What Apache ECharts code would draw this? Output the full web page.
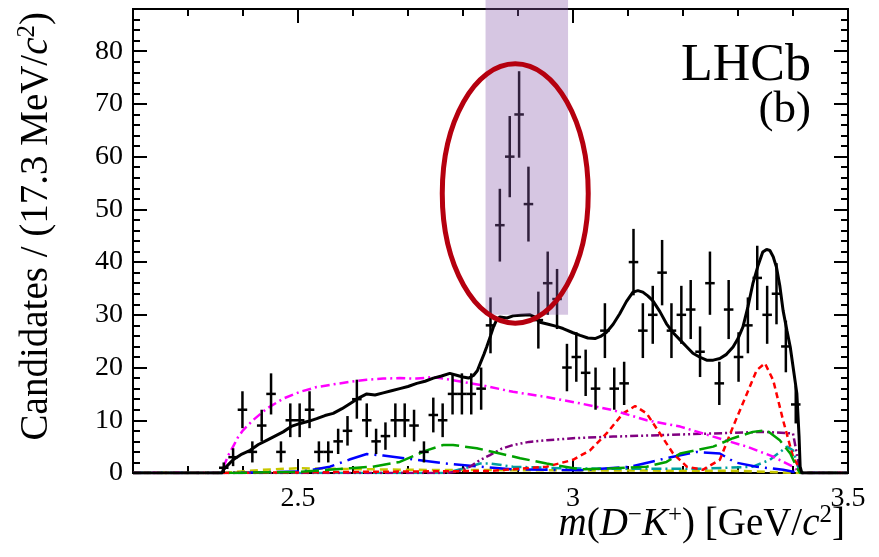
<!DOCTYPE html>
<html>
<head>
<meta charset="utf-8">
<script src="https://cdn.jsdelivr.net/npm/echarts@6/dist/echarts.min.js"></script>
<style>
  html, body { margin: 0; padding: 0; background: #fff; }
  #chart { width: 879px; height: 557px; }
</style>
</head>
<body>
<div id="chart"></div>
<script>
// m(D-K+) bin centres [GeV/c^2], 17.3 MeV wide bins
const massBins = [
  2.365, 2.382, 2.399, 2.417, 2.434, 2.451, 2.469, 2.486, 2.503, 2.521,
  2.538, 2.555, 2.573, 2.590, 2.607, 2.625, 2.642, 2.659, 2.677, 2.694,
  2.711, 2.729, 2.746, 2.763, 2.781, 2.798, 2.815, 2.833, 2.850, 2.867,
  2.885, 2.902, 2.919, 2.937, 2.954, 2.971, 2.989, 3.006, 3.023, 3.041,
  3.058, 3.075, 3.093, 3.110, 3.127, 3.145, 3.162, 3.179, 3.197, 3.214,
  3.231, 3.249, 3.266, 3.283, 3.301, 3.318, 3.335, 3.353, 3.370, 3.387,
  3.405
];
const candidates = [
  1, 3, 12, 4, 9, 15, 4, 10, 10, 12,
  4, 4, 6, 8, 14, 10, 6, 7, 10, 10,
  9, 4, 11, 10, 15, 15, 15, 16, 28, 47,
  60, 68, 51, 29, 36, 33, 20, 22, 19, 16,
  27, 16, 17, 40, 27, 30, 38, 27, 30, 31,
  23, 36, 17, 31, 22, 28, 37, 30, 34, 24,
  13
];
const candErrors = [
  1.0, 1.7, 3.5, 2.0, 3.0, 3.9, 2.0, 3.2, 3.2, 3.5,
  2.0, 2.0, 2.4, 2.8, 3.7, 3.2, 2.4, 2.6, 3.2, 3.2,
  3.0, 2.0, 3.3, 3.2, 3.9, 3.9, 3.9, 4.0, 5.3, 6.9,
  7.7, 8.2, 7.1, 5.4, 6.0, 5.7, 4.5, 4.7, 4.4, 4.0,
  5.2, 4.0, 4.1, 6.3, 5.2, 5.5, 6.2, 5.2, 5.5, 5.6,
  4.8, 6.0, 4.1, 5.6, 4.7, 5.3, 6.1, 5.5, 5.8, 4.9,
  3.6
];
const binWidth = 0.01733;

// Axis ticks
const xMajorTicks = [2.5, 3, 3.5];
const xMinorTicks = [2.3, 2.4, 2.6, 2.7, 2.8, 2.9, 3.1, 3.2, 3.3, 3.4];
const yMajorTicks = [0, 10, 20, 30, 40, 50, 60, 70, 80];
const yMinorTicks = [2, 4, 6, 8, 12, 14, 16, 18, 22, 24, 26, 28, 32, 34, 36, 38,
  42, 44, 46, 48, 52, 54, 56, 58, 62, 64, 66, 68, 72, 74, 76, 78, 82, 84, 86];

// Fit curves: [mass, candidates]
const totalFit = [
  [2.2, 0], [2.362, 0], [2.364, 0.6], [2.382, 2.5], [2.398, 3.6], [2.413, 4.3], [2.428, 5.4],
  [2.443, 6.2], [2.458, 7.0], [2.473, 7.8], [2.489, 8.9], [2.504, 9.4], [2.519, 9.8],
  [2.534, 10.3], [2.549, 10.9], [2.564, 11.3], [2.580, 12.2], [2.595, 13.2], [2.610, 14.2],
  [2.625, 15.0], [2.640, 14.8], [2.655, 15.2], [2.670, 15.6], [2.685, 16.0], [2.700, 16.4],
  [2.716, 17.0], [2.731, 17.4], [2.746, 18.0], [2.761, 18.4], [2.776, 18.9], [2.790, 18.5],
  [2.800, 18.2], [2.810, 18.0], [2.819, 18.5], [2.826, 19.4], [2.831, 20.7], [2.838, 22.5],
  [2.843, 23.9], [2.850, 26.0], [2.855, 27.6], [2.861, 29.0], [2.867, 29.6], [2.880, 29.4],
  [2.891, 29.8], [2.905, 29.9], [2.922, 30.0], [2.930, 29.6], [2.940, 28.6], [2.955, 28.2],
  [2.970, 27.8], [2.982, 27.4], [3.000, 26.6], [3.013, 26.1], [3.027, 25.6], [3.040, 25.5],
  [3.050, 25.9], [3.061, 26.7], [3.073, 28.2], [3.085, 30.2], [3.097, 32.5], [3.109, 34.3],
  [3.118, 34.6], [3.127, 34.3], [3.136, 33.6], [3.145, 32.7], [3.158, 30.6], [3.170, 28.3],
  [3.183, 26.5], [3.195, 25.2], [3.207, 23.9], [3.218, 22.7], [3.230, 22.0], [3.243, 21.4],
  [3.255, 21.4], [3.267, 21.7], [3.279, 22.5], [3.291, 23.9], [3.300, 25.5], [3.309, 27.7],
  [3.318, 31.5], [3.327, 35.9], [3.336, 39.2], [3.345, 41.9], [3.352, 42.4], [3.358, 42.2],
  [3.364, 41.0], [3.370, 39.0], [3.376, 35.5], [3.382, 30.8], [3.389, 27.0], [3.395, 23.9],
  [3.401, 19.5], [3.407, 15.1], [3.411, 7.0], [3.413, 1.2], [3.416, 0], [3.5, 0]
];
const combBkg = [
  [2.2, 0], [2.362, 0], [2.367, 1.8], [2.374, 3.5], [2.382, 5.0], [2.391, 6.8], [2.400, 8.1],
  [2.418, 10.0], [2.443, 12.2], [2.473, 14.1], [2.504, 15.4], [2.534, 16.3], [2.564, 16.8],
  [2.595, 17.3], [2.625, 17.7], [2.655, 17.9], [2.685, 18.0], [2.716, 17.9], [2.745, 18.2],
  [2.782, 17.6], [2.836, 16.6], [2.891, 15.4], [2.952, 14.4], [3.013, 13.2], [3.073, 11.9],
  [3.134, 10.0], [3.195, 8.8], [3.255, 6.9], [3.316, 5.0], [3.364, 3.1], [3.400, 1.2],
  [3.413, 0], [3.5, 0]
];
const redPeaks = [
  [2.2, 0], [2.36, 0], [2.6, 0.2], [2.85, 0.4], [2.952, 1.2], [3.000, 2.5], [3.031, 4.3],
  [3.061, 7.5], [3.091, 11.3], [3.113, 12.7], [3.134, 11.3], [3.158, 7.5], [3.182, 3.7],
  [3.207, 1.2], [3.236, 0.6], [3.267, 2.5], [3.291, 8.8], [3.316, 15.0], [3.334, 19.5],
  [3.349, 20.8], [3.364, 17.6], [3.382, 10.0], [3.400, 3.1], [3.413, 0.6], [3.416, 0], [3.5, 0]
];
const purpleComp = [
  [2.2, 0], [2.77, 0], [2.790, 0.3], [2.813, 1.2], [2.830, 2.4], [2.849, 3.4], [2.870, 4.6],
  [2.891, 5.3], [2.920, 5.9], [2.952, 6.2], [3.000, 6.6], [3.073, 6.9], [3.164, 7.2],
  [3.255, 7.5], [3.345, 7.8], [3.400, 7.5], [3.409, 2.5], [3.413, 0], [3.5, 0]
];
const greenComp = [
  [2.2, 0], [2.36, 0], [2.5, 0.2], [2.595, 0.9], [2.636, 1.2], [2.685, 2.1], [2.734, 4.3],
  [2.764, 5.3], [2.782, 5.3], [2.825, 4.7], [2.867, 3.7], [2.904, 2.8], [2.952, 1.8],
  [3.013, 0.7], [3.073, 0.9], [3.134, 1.2], [3.170, 2.1], [3.195, 3.7], [3.255, 5.0],
  [3.291, 6.6], [3.327, 7.8], [3.352, 8.1], [3.376, 6.2], [3.395, 3.7], [3.409, 0.6],
  [3.413, 0], [3.5, 0]
];
const blueComp = [
  [2.2, 0], [2.37, 0], [2.509, 0.3], [2.558, 1.2], [2.595, 2.6], [2.625, 3.6], [2.655, 3.3],
  [2.716, 2.5], [2.767, 1.8], [2.831, 1.2], [2.891, 0.7], [3.013, 0.5], [3.104, 1.2],
  [3.170, 2.8], [3.225, 4.0], [3.267, 3.7], [3.295, 2.0], [3.334, 1.2], [3.382, 0.6],
  [3.413, 0], [3.5, 0]
];
const tealComp = [
  [2.2, 0], [2.77, 0], [2.813, 1.2], [2.831, 1.8], [2.849, 1.8], [2.891, 1.2], [2.982, 0.9],
  [3.073, 0.8], [3.231, 0.8], [3.327, 1.2], [3.358, 2.5], [3.389, 5.0], [3.400, 4.3],
  [3.409, 1.2], [3.413, 0], [3.5, 0]
];
const yellowComp = [
  [2.2, 0], [2.36, 0], [2.436, 0.6], [2.498, 0.9], [2.7, 0.6], [3.0, 0.5], [3.3, 0.4],
  [3.41, 0], [3.5, 0]
];

// Highlighted region and the ring around the peak: [xFrom, xTo, yFrom, yTo], [cx, cy, halfX, halfY]
const bandRange = [2.841, 2.991, 30, 89.7];
const peakRing = [2.895, 53, 0.1327, 24.6];

const serif = '"Liberation Serif"';

const tickRich = { t: { fontFamily: serif, fontSize: 28, color: '#000' } };

function xAxisDef(position, ticks, len, labels) {
  return {
    type: 'value', min: 2.2, max: 3.5, position: position,
    axisLine: { show: true, onZero: false, lineStyle: { color: '#000', width: 2 } },
    axisTick: { show: true, inside: true, length: len, customValues: ticks,
      lineStyle: { color: '#000', width: 2 } },
    axisLabel: labels ? {
      show: true, customValues: xMajorTicks, margin: 12, color: '#000',
      fontFamily: serif, fontSize: 28, rich: tickRich,
      formatter: v => '{t|' + v + '}'
    } : { show: false },
    splitLine: { show: false }
  };
}
function yAxisDef(position, ticks, len, labels) {
  return {
    type: 'value', min: 0, max: 88, position: position,
    axisLine: { show: true, onZero: false, lineStyle: { color: '#000', width: 2 } },
    axisTick: { show: true, inside: true, length: len, customValues: ticks,
      lineStyle: { color: '#000', width: 2 } },
    axisLabel: labels ? {
      show: true, customValues: yMajorTicks, margin: 10, color: '#000',
      fontFamily: serif, fontSize: 28, rich: tickRich,
      formatter: v => '{t|' + v + '}'
    } : { show: false },
    splitLine: { show: false }
  };
}

function curve(name, data, color, width, dash, z) {
  return {
    name: name, type: 'line', data: data, showSymbol: false, silent: true,
    xAxisIndex: 0, yAxisIndex: 0, z: z, clip: true,
    lineStyle: { color: color, width: width, type: dash }
  };
}

const chart = echarts.init(document.getElementById('chart'), null, { renderer: 'canvas' });

const richStyles = {
  n: { fontFamily: serif, fontSize: 39, lineHeight: 44 },
  i: { fontFamily: serif, fontStyle: 'italic', fontSize: 39, lineHeight: 44 },
  s: { fontFamily: serif, fontSize: 25, lineHeight: 25, verticalAlign: 'top' },
  big: { fontFamily: serif, fontSize: 52, lineHeight: 52 },
  mid: { fontFamily: serif, fontSize: 45, lineHeight: 45 }
};

const option = {
  animation: false,
  backgroundColor: '#fff',
  grid: { left: 133, right: 31, top: 9, bottom: 84, containLabel: false },
  xAxis: [
    xAxisDef('bottom', xMinorTicks, 7, true),
    xAxisDef('bottom', xMajorTicks, 14, false),
    xAxisDef('top', xMinorTicks, 7, false),
    xAxisDef('top', xMajorTicks, 14, false)
  ],
  yAxis: [
    yAxisDef('left', yMinorTicks, 7, true),
    yAxisDef('left', yMajorTicks, 14, false),
    yAxisDef('right', yMinorTicks, 7, false),
    yAxisDef('right', yMajorTicks, 14, false)
  ],
  graphic: [
    {
      type: 'text', x: 37, y: 12, rotation: Math.PI / 2, silent: true,
      style: {
        text: '{n|Candidates / (17.3 MeV/}{i|c}{s|2}{n|)}',
        align: 'right', verticalAlign: 'middle',
        fontFamily: serif, fontSize: 39, fill: '#000', lineHeight: 44,
        rich: richStyles
      }
    },
    {
      type: 'text', x: 845, y: 525, silent: true,
      style: {
        text: '{i|m}{n|(}{i|D}{s|−}{i|K}{s|+}{n|) [GeV/}{i|c}{s|2}{n|]}',
        align: 'right', verticalAlign: 'middle',
        fontFamily: serif, fontSize: 39, fill: '#000', lineHeight: 44,
        rich: richStyles
      }
    },
    {
      type: 'text', x: 811, y: 66, silent: true, z: 100,
      style: { text: '{big|LHCb}', align: 'right', verticalAlign: 'middle',
        fontFamily: serif, fontSize: 52, fill: '#000', rich: richStyles }
    },
    {
      type: 'text', x: 811, y: 110, silent: true, z: 100,
      style: { text: '{mid|(b)}', align: 'right', verticalAlign: 'middle',
        fontFamily: serif, fontSize: 45, fill: '#000', rich: richStyles }
    }
  ],
  series: [
    curve('yellow', yellowComp, '#c8c800', 2.5, [8, 5], 2),
    curve('teal', tealComp, '#00a0a0', 2.5, [10, 4, 2, 4], 3),
    curve('blue', blueComp, '#0000ff', 2.5, [22, 6, 2, 6], 4),
    curve('purple', purpleComp, '#800080', 2.5, [8, 3, 2, 3, 2, 3], 5),
    curve('red', redPeaks, '#ff0000', 2.5, [6, 4], 6),
    curve('magenta', combBkg, '#ff00ff', 2.5, [9, 4, 2, 4], 7),
    curve('green', greenComp, '#00a000', 2.5, [18, 6], 8),
    curve('total', totalFit, '#000000', 3, 'solid', 9),
    {
      name: 'data', type: 'custom', xAxisIndex: 0, yAxisIndex: 0, z: 10, silent: true,
      data: massBins.map((m, i) => [m, candidates[i], candErrors[i]]),
      encode: { x: 0, y: 1 },
      renderItem: function (params, api) {
        const x = api.value(0), y = api.value(1), e = api.value(2);
        const c = api.coord([x, y]);
        const hi = api.coord([x, y + e]);
        const lo = api.coord([x, Math.max(0, y - e)]);
        const hw = api.size([binWidth, 0])[0] / 2;
        const st = { stroke: '#000', lineWidth: 2.5 };
        return {
          type: 'group',
          children: [
            { type: 'line', shape: { x1: c[0], y1: hi[1], x2: c[0], y2: lo[1] }, style: st },
            { type: 'line', shape: { x1: c[0] - hw, y1: c[1], x2: c[0] + hw, y2: c[1] }, style: st }
          ]
        };
      }
    },
    {
      name: 'band', type: 'custom', xAxisIndex: 0, yAxisIndex: 0, z: 11, silent: true,
      data: [bandRange],
      encode: { x: [0, 1], y: [2, 3] },
      renderItem: function (params, api) {
        const p1 = api.coord([api.value(0), api.value(3)]);
        const p2 = api.coord([api.value(1), api.value(2)]);
        return {
          type: 'rect',
          shape: { x: p1[0], y: p1[1], width: p2[0] - p1[0], height: p2[1] - p1[1] },
          style: { fill: 'rgba(138,92,172,0.35)' }
        };
      }
    },
    {
      name: 'ring', type: 'custom', xAxisIndex: 0, yAxisIndex: 0, z: 12, silent: true,
      data: [peakRing],
      encode: { x: 0, y: 1 },
      renderItem: function (params, api) {
        const c = api.coord([api.value(0), api.value(1)]);
        const rx = api.size([api.value(2), 0])[0];
        const ry = api.size([0, api.value(3)])[1];
        return {
          type: 'ellipse',
          shape: { cx: c[0], cy: c[1], rx: rx, ry: ry },
          style: { fill: 'none', stroke: '#b5000f', lineWidth: 5 }
        };
      }
    }
  ]
};

chart.setOption(option);
</script>
</body>
</html>
